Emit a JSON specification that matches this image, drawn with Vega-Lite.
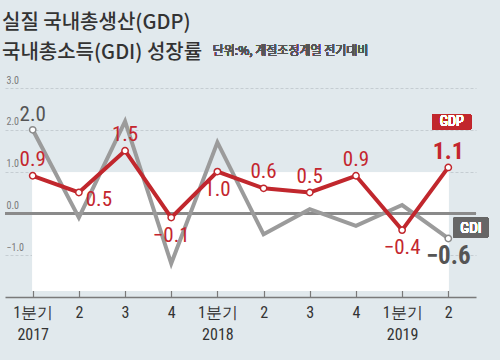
{
  "$schema": "https://vega.github.io/schema/vega-lite/v6.json",
  "width": 471,
  "height": 209,
  "autosize": {"type": "none"},
  "padding": {"left": 5, "top": 88, "right": 24, "bottom": 63},
  "background": "#e1e9ed",
  "title": {
    "text": ["실질 국내총생산(GDP)", "국내총소득(GDI) 성장률"],
    "anchor": "start",
    "frame": "group",
    "font": "Noto Sans CJK KR",
    "fontSize": 20,
    "fontWeight": 500,
    "color": "#333333",
    "lineHeight": 30,
    "offset": 26,
    "dy": 44,
    "dx": -3
  },
  "config": {"view": {"stroke": null}},
  "data": {
    "values": [
      {"t": 1, "series": "GDP", "value": 0.9},
      {"t": 2, "series": "GDP", "value": 0.5},
      {"t": 3, "series": "GDP", "value": 1.5},
      {"t": 4, "series": "GDP", "value": -0.1},
      {"t": 5, "series": "GDP", "value": 1.0},
      {"t": 6, "series": "GDP", "value": 0.6},
      {"t": 7, "series": "GDP", "value": 0.5},
      {"t": 8, "series": "GDP", "value": 0.9},
      {"t": 9, "series": "GDP", "value": -0.4},
      {"t": 10, "series": "GDP", "value": 1.1},
      {"t": 1, "series": "GDI", "value": 2.0},
      {"t": 2, "series": "GDI", "value": -0.1},
      {"t": 3, "series": "GDI", "value": 2.2},
      {"t": 4, "series": "GDI", "value": -1.2},
      {"t": 5, "series": "GDI", "value": 1.7},
      {"t": 6, "series": "GDI", "value": -0.5},
      {"t": 7, "series": "GDI", "value": 0.1},
      {"t": 8, "series": "GDI", "value": -0.3},
      {"t": 9, "series": "GDI", "value": 0.2},
      {"t": 10, "series": "GDI", "value": -0.6}
    ]
  },
  "encoding": {
    "x": {
      "field": "t",
      "type": "quantitative",
      "scale": {"domain": [0.4, 10.6], "nice": false, "zero": false},
      "axis": {
        "title": null,
        "values": [1, 2, 3, 4, 5, 6, 7, 8, 9, 10],
        "labelExpr": "datum.value == 1 ? ['1분기', '2017'] : datum.value == 5 ? ['1분기', '2018'] : datum.value == 9 ? ['1분기', '2019'] : '' + ((datum.value - 1) % 4 + 1)",
        "grid": false,
        "domainColor": "#7a7a7a",
        "domainWidth": 1.5,
        "tickColor": "#7a7a7a",
        "tickWidth": 1.2,
        "tickSize": -7,
        "labelPadding": 14,
        "labelBaseline": "top",
        "labelFont": "Liberation Sans Narrow, Roboto Condensed, Liberation Sans, sans-serif",
        "labelFontSize": 16,
        "labelColor": "#333333",
        "labelLineHeight": 22,
        "labelFlush": false,
        "labelOverlap": false
      }
    },
    "y": {
      "field": "value",
      "type": "quantitative",
      "scale": {"domain": [-2, 3], "nice": false},
      "axis": {
        "title": null,
        "values": [-1, 0, 1, 2, 3],
        "format": ".1f",
        "domain": false,
        "ticks": false,
        "tickSize": 0,
        "labelAlign": "left",
        "labelBaseline": "middle",
        "labelPadding": -1,
        "labelOffset": -8,
        "labelFont": "Liberation Sans Narrow, Roboto Condensed, Liberation Sans, sans-serif",
        "labelFontSize": 10,
        "labelColor": "#7a7a7a",
        "gridColor": "#c5cdd2",
        "gridDash": [3, 2],
        "gridWidth": 1
      }
    }
  },
  "layer": [
    {
      "mark": {"type": "rect", "color": "#ffffff"},
      "encoding": {
        "x": {"datum": 1},
        "x2": {"datum": 10},
        "y": {"datum": 0.97},
        "y2": {"datum": -1.85}
      }
    },
    {
      "mark": {"type": "rule", "color": "#8a8a8a", "strokeWidth": 2},
      "encoding": {"y": {"datum": 0}, "x": {"datum": 0.4}, "x2": {"datum": 10.6}}
    },
    {
      "transform": [{"filter": "datum.series == 'GDI'"}],
      "mark": {"type": "line", "color": "#9b9b9b", "strokeWidth": 4}
    },
    {
      "transform": [{"filter": "datum.series == 'GDP'"}],
      "mark": {"type": "line", "color": "#c1272d", "strokeWidth": 4}
    },
    {
      "transform": [{"filter": "datum.series == 'GDI' && (datum.t == 1 || datum.t == 10)"}],
      "mark": {"type": "point", "filled": true, "fill": "#ffffff", "stroke": "#8a8a8a", "strokeWidth": 1.5, "size": 40, "opacity": 1}
    },
    {
      "transform": [{"filter": "datum.series == 'GDP'"}],
      "mark": {"type": "point", "filled": true, "fill": "#ffffff", "stroke": "#c1272d", "strokeWidth": 1.5, "size": 40, "opacity": 1}
    },
    {
      "transform": [{"filter": "datum.series == 'GDP' && indexof([1, 3, 6, 7, 8], datum.t) >= 0"}],
      "mark": {"type": "text", "color": "#c4262e", "font": "Liberation Sans Narrow, Roboto Condensed, Liberation Sans, sans-serif", "fontSize": 21, "baseline": "middle", "dy": -16},
      "encoding": {"text": {"field": "value", "type": "quantitative", "format": ".1f"}}
    },
    {
      "transform": [{"filter": "datum.series == 'GDP' && indexof([4, 5, 9], datum.t) >= 0"}],
      "mark": {"type": "text", "color": "#c4262e", "font": "Liberation Sans Narrow, Roboto Condensed, Liberation Sans, sans-serif", "fontSize": 21, "baseline": "middle", "dy": 18},
      "encoding": {"text": {"field": "value", "type": "quantitative", "format": ".1f"}}
    },
    {
      "transform": [{"filter": "datum.series == 'GDP' && datum.t == 2"}],
      "mark": {"type": "text", "color": "#c4262e", "font": "Liberation Sans Narrow, Roboto Condensed, Liberation Sans, sans-serif", "fontSize": 21, "baseline": "middle", "dx": 20, "dy": 7},
      "encoding": {"text": {"field": "value", "type": "quantitative", "format": ".1f"}}
    },
    {
      "transform": [{"filter": "datum.series == 'GDP' && datum.t == 10"}],
      "mark": {"type": "text", "color": "#c4262e", "font": "Liberation Sans Narrow, Roboto Condensed, Liberation Sans, sans-serif", "fontSize": 24, "fontWeight": "bold", "baseline": "middle", "dy": -15},
      "encoding": {"text": {"field": "value", "type": "quantitative", "format": ".1f"}}
    },
    {
      "transform": [{"filter": "datum.series == 'GDI' && datum.t == 1"}],
      "mark": {"type": "text", "color": "#555555", "font": "Liberation Sans Narrow, Roboto Condensed, Liberation Sans, sans-serif", "fontSize": 21, "baseline": "middle", "dy": -15},
      "encoding": {"text": {"field": "value", "type": "quantitative", "format": ".1f"}}
    },
    {
      "transform": [{"filter": "datum.series == 'GDI' && datum.t == 10"}],
      "mark": {"type": "text", "color": "#555555", "font": "Liberation Sans Narrow, Roboto Condensed, Liberation Sans, sans-serif", "fontSize": 25, "fontWeight": "bold", "baseline": "middle", "dy": 18},
      "encoding": {"text": {"field": "value", "type": "quantitative", "format": ".1f"}}
    },
    {
      "mark": {"type": "rect", "color": "#c1272d", "cornerRadius": 2},
      "encoding": {"x": {"datum": 9.65}, "x2": {"datum": 10.5}, "y": {"datum": 2.38}, "y2": {"datum": 2.0}}
    },
    {
      "mark": {"type": "text", "color": "#ffffff", "font": "Liberation Sans Narrow, Roboto Condensed, Liberation Sans, sans-serif", "fontSize": 14, "baseline": "middle", "align": "center", "text": "GDP"},
      "encoding": {"x": {"datum": 10.075}, "y": {"datum": 2.19}}
    },
    {
      "mark": {"type": "rect", "color": "#666666", "cornerRadius": 2},
      "encoding": {"x": {"datum": 10.11}, "x2": {"datum": 10.87}, "y": {"datum": -0.09}, "y2": {"datum": -0.59}}
    },
    {
      "mark": {"type": "text", "color": "#ffffff", "font": "Liberation Sans Narrow, Roboto Condensed, Liberation Sans, sans-serif", "fontSize": 15, "baseline": "middle", "align": "center", "text": "GDI"},
      "encoding": {"x": {"datum": 10.49}, "y": {"datum": -0.34}}
    },
    {
      "mark": {"type": "text", "color": "#555555", "font": "Noto Sans CJK KR", "fontSize": 12, "baseline": "middle", "align": "left", "text": "단위:%, 계절조정계열 전기대비"},
      "encoding": {"x": {"datum": 4.9}, "y": {"datum": 3.885}}
    }
  ]
}
